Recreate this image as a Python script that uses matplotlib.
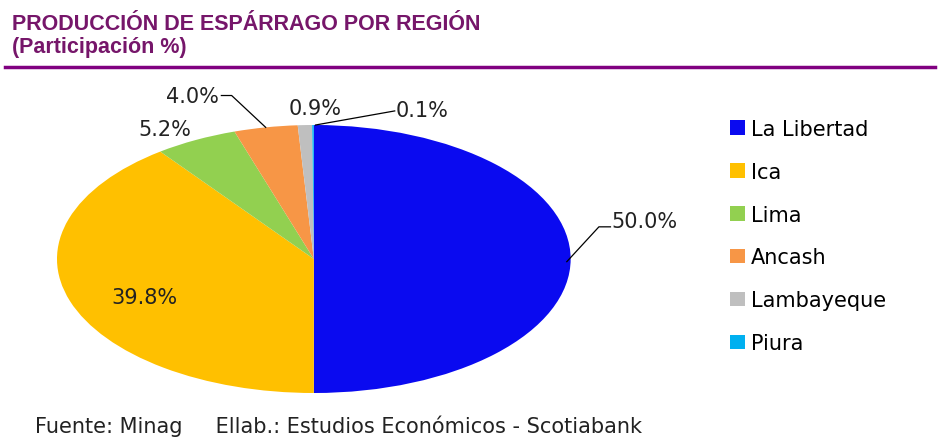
import numpy as np
import matplotlib.pyplot as plt

# data
regions = ["La Libertad", "Ica", "Lima", "Ancash", "Lambayeque", "Piura"]
shares = [50.0, 39.8, 5.2, 4.0, 0.9, 0.1]
colors = ["#0a0af0", "#ffc000", "#92d050", "#f79646", "#bfbfbf", "#00b0f0"]
title = "PRODUCCIÓN DE ESPÁRRAGO POR REGIÓN\n(Participación %)"
source = "Fuente: Minag     Ellab.: Estudios Económicos - Scotiabank"

fig = plt.figure(figsize=(9.53, 4.39), dpi=100)
fig.patch.set_facecolor("white")

# title and underline
fig.text(0.013, 0.968, title, ha="left", va="top", fontsize=15.5, fontweight="bold",
         family="Liberation Sans", color="#76166a", linespacing=1.12)
fig.add_artist(plt.Line2D([0.005, 0.981], [0.845, 0.845], color="#800080", lw=2.5))

# elliptical pie
ax = fig.add_axes([0.0598, 0.1025, 0.539, 0.6105])
wedges, _ = ax.pie(shares, colors=colors, startangle=90, counterclock=False,
                   wedgeprops=dict(linewidth=0))
ax.set_aspect("auto")
ax.set_xlim(-1, 1)
ax.set_ylim(-1, 1)
ax.axis("off")

lab_kw = dict(fontsize=15, family="DejaVu Sans", color="#222222")


def edge(w):
    a = np.deg2rad((w.theta1 + w.theta2) / 2)
    return np.cos(a), np.sin(a)


lbl = ["%.1f%%" % v for v in shares]

# La Libertad
ex, ey = edge(wedges[0])
ax.plot([ex - 0.015, 1.11, 1.155], [ey - 0.02, 0.24, 0.24], color="black", lw=0.9,
        clip_on=False)
ax.text(1.16, 0.28, lbl[0], ha="left", va="center", **lab_kw)
# Ica
ax.text(-0.66, -0.28, lbl[1], ha="center", va="center", **lab_kw)
# Lima
ax.text(-0.58, 0.97, lbl[2], ha="center", va="center", **lab_kw)
# Ancash
ex, ey = edge(wedges[3])
ax.plot([ex, -0.32, -0.36], [ey, 1.22, 1.22], color="black", lw=0.9, clip_on=False)
ax.text(-0.37, 1.22, lbl[3], ha="right", va="center", **lab_kw)
# Lambayeque
ax.text(0.004, 1.13, lbl[4], ha="center", va="center", **lab_kw)
# Piura
ex, ey = edge(wedges[5])
ax.plot([ex + 0.01, 0.315], [ey, 1.105], color="black", lw=0.9, clip_on=False)
ax.text(0.32, 1.11, lbl[5], ha="left", va="center", **lab_kw)

# legend
leg = fig.legend(wedges, regions, loc="upper left", bbox_to_anchor=(0.746, 0.77),
                 frameon=False, prop=dict(family="DejaVu Sans", size=15),
                 handlelength=0.75, handleheight=0.7, handletextpad=0.25,
                 labelspacing=1.1)

# footer
fig.text(0.037, 0.004, source, ha="left", va="bottom", fontsize=15,
         family="DejaVu Sans", color="#222222")

fig.savefig("out.png", dpi=100)
